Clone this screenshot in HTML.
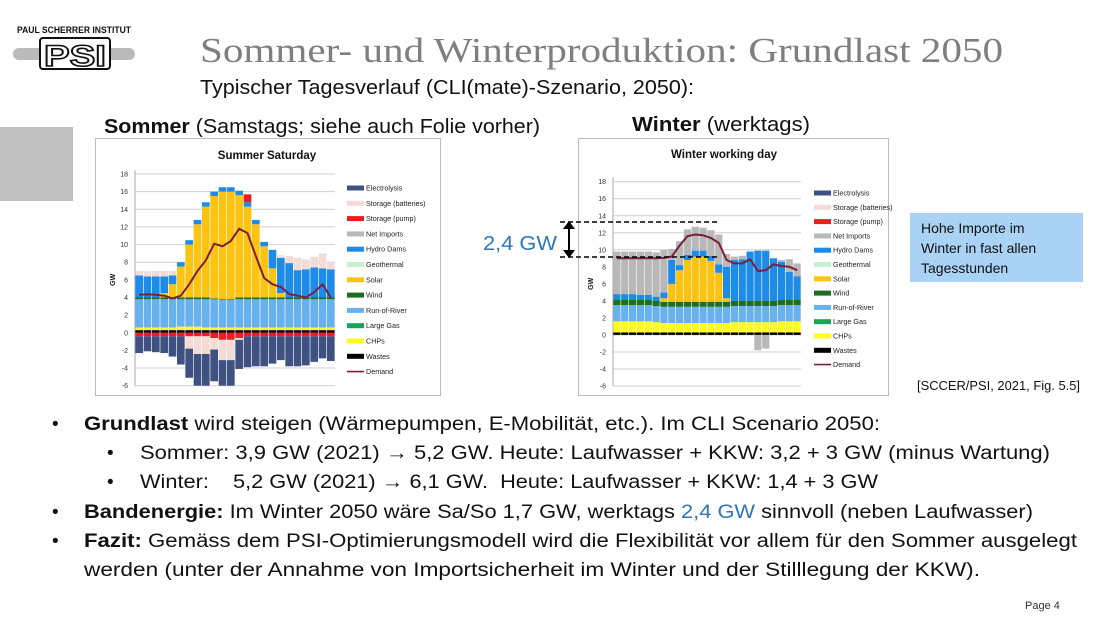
<!DOCTYPE html>
<html><head><meta charset="utf-8"><style>
html,body{margin:0;padding:0;background:#fff;}
svg{display:block;font-family:"Liberation Sans",sans-serif;}
</style></head><body>
<svg id="slide" width="1100" height="619" viewBox="0 0 1100 619" xmlns="http://www.w3.org/2000/svg">
<rect width="1100" height="619" fill="#fff"/>
<g>
<text x="17" y="33" font-size="9.5" font-weight="bold" fill="#111" textLength="114" lengthAdjust="spacingAndGlyphs">PAUL SCHERRER INSTITUT</text>
<rect x="13" y="48" width="122" height="12" rx="6" fill="#bbb"/>
<rect x="40" y="38" width="70" height="31" rx="3" fill="#fff" stroke="#111" stroke-width="2"/>
<text x="75" y="66" font-size="30" font-weight="bold" fill="#fff" stroke="#111" stroke-width="1.6" text-anchor="middle" textLength="62" lengthAdjust="spacingAndGlyphs">PSI</text>
</g>
<rect x="0" y="127" width="73" height="74" fill="#bfbfbf"/>
<text x="200" y="62" font-family="Liberation Serif,serif" font-size="35" fill="#7f7f7f" textLength="803" lengthAdjust="spacingAndGlyphs">Sommer- und Winterproduktion: Grundlast 2050</text>
<text x="200" y="94" font-size="20" fill="#111" textLength="494" lengthAdjust="spacingAndGlyphs">Typischer Tagesverlauf (CLI(mate)-Szenario, 2050):</text>
<text x="104" y="133" font-size="20" fill="#111" textLength="436" lengthAdjust="spacingAndGlyphs"><tspan font-weight="bold">Sommer</tspan> (Samstags; siehe auch Folie vorher)</text>
<text x="632" y="131" font-size="20" fill="#111" textLength="178" lengthAdjust="spacingAndGlyphs"><tspan font-weight="bold">Winter</tspan> (werktags)</text>
<rect x="95.5" y="138.5" width="345" height="257" fill="#fff" stroke="#bbb"/>
<rect x="578.5" y="138.5" width="310" height="257" fill="#fff" stroke="#bbb"/>
<g id="summer"></g>
<g id="winter"></g>
<g>
<line x1="560" y1="222" x2="720" y2="222" stroke="#000" stroke-width="1.5" stroke-dasharray="5,3"/>
<line x1="560" y1="257" x2="720" y2="257" stroke="#000" stroke-width="1.5" stroke-dasharray="5,3"/>
<line x1="569" y1="226" x2="569" y2="253" stroke="#000" stroke-width="2"/>
<polygon points="563,229 575,229 569,221" fill="#000"/>
<polygon points="563,250 575,250 569,258" fill="#000"/>
<text x="483" y="250" font-size="20" fill="#2e75b6" textLength="74" lengthAdjust="spacingAndGlyphs">2,4 GW</text>
</g>
<g>
<rect x="910" y="213" width="173" height="69" fill="#a9d2f5"/>
<text x="921" y="233" font-size="14" fill="#111">Hohe Importe im</text>
<text x="921" y="253" font-size="14" fill="#111">Winter in fast allen</text>
<text x="921" y="273" font-size="14" fill="#111">Tagesstunden</text>
</g>
<text x="917" y="390" font-size="13" fill="#111" textLength="163" lengthAdjust="spacingAndGlyphs">[SCCER/PSI, 2021, Fig. 5.5]</text>
<g font-size="19" fill="#111">
<text x="52" y="430">•</text>
<text x="84" y="430" textLength="796" lengthAdjust="spacingAndGlyphs"><tspan font-weight="bold">Grundlast</tspan> wird steigen (Wärmepumpen, E-Mobilität, etc.). Im CLI Scenario 2050:</text>
<text x="107" y="459">•</text>
<text x="140" y="459" textLength="910" lengthAdjust="spacingAndGlyphs">Sommer: 3,9 GW (2021) → 5,2 GW.  Heute: Laufwasser + KKW: 3,2 + 3 GW (minus Wartung)</text>
<text x="107" y="488">•</text>
<text x="140" y="488" textLength="738" lengthAdjust="spacingAndGlyphs" xml:space="preserve">Winter:    5,2 GW (2021) → 6,1 GW.  Heute: Laufwasser + KKW: 1,4 + 3 GW</text>
<text x="52" y="518">•</text>
<text x="84" y="518" textLength="949" lengthAdjust="spacingAndGlyphs"><tspan font-weight="bold">Bandenergie:</tspan> Im Winter 2050 wäre Sa/So 1,7 GW, werktags <tspan fill="#2e75b6">2,4 GW</tspan> sinnvoll (neben Laufwasser)</text>
<text x="52" y="547">•</text>
<text x="84" y="547" textLength="993" lengthAdjust="spacingAndGlyphs"><tspan font-weight="bold">Fazit:</tspan> Gemäss dem PSI-Optimierungsmodell wird die Flexibilität vor allem für den Sommer ausgelegt</text>
<text x="84" y="576" textLength="896" lengthAdjust="spacingAndGlyphs">werden (unter der Annahme von Importsicherheit im Winter und der Stilllegung der KKW).</text>
</g>
<text x="1025" y="609" font-size="11" fill="#333">Page 4</text>
</svg>
<script>
// ---- data ----
const hours = [1,2,3,4,5,6,7,8,9,10,11,12,13,14,15,16,17,18,19,20,21,22,23,24];
const yTicks = [-6,-4,-2,0,2,4,6,8,10,12,14,16,18];
const legendLabels = ["Electrolysis","Storage (batteries)","Storage (pump)","Net Imports","Hydro Dams","Geothermal","Solar","Wind","Run-of-River","Large Gas","CHPs","Wastes","Demand"];
// Summer Saturday (GW, stacked components)
const sWastes = [0.3,0.3,0.3,0.3,0.3,0.3,0.3,0.3,0.3,0.3,0.3,0.3,0.3,0.3,0.3,0.3,0.3,0.3,0.3,0.3,0.3,0.3,0.3,0.3];
const sCHP = [0.3,0.3,0.3,0.3,0.3,0.4,0.4,0.4,0.3,0.3,0.3,0.3,0.3,0.3,0.3,0.3,0.3,0.3,0.3,0.3,0.3,0.3,0.3,0.3];
const sRoR = [3.2,3.2,3.2,3.2,3.2,3.1,3.1,3.1,3.2,3.2,3.1,3.1,3.2,3.2,3.2,3.2,3.2,3.2,3.2,3.2,3.2,3.2,3.2,3.2];
const sWind = [0.2,0.2,0.2,0.2,0.2,0.2,0.2,0.2,0.2,0.1,0.1,0.1,0.2,0.2,0.2,0.2,0.2,0.2,0.2,0.2,0.2,0.2,0.2,0.2];
const sSolar = [0,0,0,0.5,1.5,3.5,6,8.3,10.3,11.6,12.2,12.2,11.6,10.3,8.3,5.8,3.3,0.5,0,0,0,0,0,0];
const sHydro = [2.5,2.4,2.4,1.9,1.0,0.5,0.5,0.5,0.5,0.5,0.5,0.5,0.5,0.5,0.5,0.5,2.1,4.0,3.9,3.1,3.2,3.4,3.3,3.2];
const sPumpOut = [0,0,0,0,0,0,0,0,0,0,0,0,0,0.9,0,0,0,0,0,0,0,0,0,0];
const sBattOut = [0.5,0.6,0.6,0.6,0.5,0,0,0,0,0,0,0,0,0,0,0,0,0.3,0.8,1.4,1.1,1.2,1.7,0.7];
const sPumpIn = [0.4,0.4,0.4,0.4,0.4,0.4,0.4,0.4,0.4,0.6,0.8,0.8,0.6,0.4,0.4,0.4,0.4,0.4,0.4,0.4,0.4,0.4,0.4,0.4];
const sBattIn = [0,0,0,0,0,0,1.4,2.0,2.0,1.3,2.3,2.3,0.2,0,0,0,0,0,0,0,0,0,0,0];
const sElec = [1.9,1.7,1.8,1.9,2.3,3.2,3.3,3.6,3.6,3.6,2.9,2.9,3.3,3.5,3.4,3.4,3.1,2.7,3.4,3.4,3.3,2.9,2.5,2.8];
const sDemand = [4.3,4.35,4.3,4.2,3.9,4.2,5.5,7.0,8.2,10.1,9.8,10.4,11.8,11.3,8.7,6.2,5.5,5.2,4.4,4.2,4.0,4.6,5.5,4.0];
// Winter working day
const wWastes = [0.3,0.3,0.3,0.3,0.3,0.3,0.3,0.3,0.3,0.3,0.3,0.3,0.3,0.3,0.3,0.3,0.3,0.3,0.3,0.3,0.3,0.3,0.3,0.3];
const wCHP = [1.3,1.3,1.3,1.3,1.3,1.2,1.1,1.1,1.1,1.1,1.1,1.1,1.1,1.1,1.1,1.2,1.2,1.2,1.2,1.2,1.2,1.3,1.3,1.3];
const wRoR = [1.9,1.9,1.9,1.9,1.9,1.9,1.9,1.9,1.9,1.9,1.9,1.9,1.9,1.9,1.9,1.9,1.9,1.9,1.9,1.9,1.9,1.9,1.9,1.9];
const wWind = [0.6,0.6,0.6,0.6,0.6,0.6,0.6,0.6,0.6,0.6,0.6,0.6,0.6,0.6,0.6,0.6,0.6,0.6,0.6,0.6,0.6,0.6,0.6,0.6];
const wSolar = [0,0,0,0,0,0,0.4,2.1,3.7,4.9,5.3,5.3,4.8,3.4,0.4,0,0,0,0,0,0,0,0,0];
const wHydro = [0.7,0.7,0.7,0.6,0.6,0.5,0.7,2.8,0.6,0.6,0.7,0.7,0.6,1.0,3.7,4.8,4.9,5.8,5.9,5.9,5.0,4.5,3.3,2.8];
const wImports = [5.0,5.0,5.0,5.1,5.1,5.2,5.0,1.3,2.8,3.0,2.8,2.7,3.0,3.5,1.5,0.4,0.4,0,-1.8,-1.6,0,0.2,1.5,1.5];
const wDemand = [9.0,9.0,9.0,9.0,9.0,9.0,9.05,9.2,10.5,11.6,11.8,11.7,11.4,10.8,8.8,8.4,8.4,8.9,7.5,7.6,8.3,8.1,8.0,7.6];

const COL = {elec:"#3e5180",batt:"#f3dcd6",pump:"#ee1c1c",imp:"#b8b8b8",hydro:"#1c8ce8",geo:"#c8efd0",solar:"#fdc311",wind:"#1d6e22",ror:"#68b1ef",gas:"#16a457",chp:"#fffb1e",waste:"#000",demand:"#7b1f3c"};
const legendColors = [COL.elec,COL.batt,COL.pump,COL.imp,COL.hydro,COL.geo,COL.solar,COL.wind,COL.ror,COL.gas,COL.chp,COL.waste,COL.demand];
const NS = "http://www.w3.org/2000/svg";
function mk(tag, attrs, parent){const e=document.createElementNS(NS,tag);for(const k in attrs)e.setAttribute(k,attrs[k]);parent.appendChild(e);return e;}

function drawChart(g, cfg){
  const yScale = v => cfg.yTop + (18 - v) * (cfg.yBot - cfg.yTop) / 24;
  const slot = (cfg.xR - cfg.xL) / hours.length;
  const xScale = i => cfg.xL + i * slot;
  const t = mk("text",{x:cfg.titleX,y:cfg.titleY,"font-size":11.5,"font-weight":"bold","text-anchor":"middle",fill:"#111"},g);
  t.textContent = cfg.title;
  
  
  yTicks.forEach(v=>{
    const l = mk("line",{x1:cfg.xL,x2:cfg.xR,y1:yScale(v),y2:yScale(v),stroke:"#cfcfcf","stroke-width":1},g);
    
    
    const tx = mk("text",{x:cfg.xL-7,y:yScale(v)+2.5,"font-size":7,"text-anchor":"end",fill:"#333"},g);
    tx.textContent = v;
    
    
  });
  const ax = mk("line",{x1:cfg.xL,x2:cfg.xL,y1:yScale(18)-4,y2:yScale(-6),stroke:"#aaa"},g);
  
  
  const yt = mk("text",{x:0,y:0,"font-size":7,"font-weight":"bold",fill:"#111","text-anchor":"middle",transform:`translate(${cfg.xL-20},${yScale(6)}) rotate(-90)`},g);
  yt.textContent="GW";
  
  
  const bw = slot * 0.92;
  hours.forEach((h,i)=>{
    let pos = 0, neg = 0;
    const x = xScale(i) + (slot-bw)/2;
    cfg.pos.forEach(([arr,c])=>{
      const v = arr[i];
      if (v > 0){
        const r = mk("rect",{x:x,y:yScale(pos+v),width:bw,height:yScale(pos)-yScale(pos+v),fill:c},g);
        
        
        pos += v;
      } else if (v < 0){
        const r = mk("rect",{x:x,y:yScale(neg),width:bw,height:yScale(neg+v)-yScale(neg),fill:c},g);
        
        
        neg += v;
      }
    });
    cfg.neg.forEach(([arr,c])=>{
      const v = arr[i];
      if (v > 0){
        const r = mk("rect",{x:x,y:yScale(neg),width:bw,height:yScale(neg-v)-yScale(neg),fill:c},g);
        
        
        neg -= v;
      }
    });
  });
  const pts = cfg.demand.map((v,i)=>(xScale(i)+slot/2).toFixed(1)+","+yScale(v).toFixed(1)).join(" ");
  const pl = mk("polyline",{points:pts,fill:"none",stroke:COL.demand,"stroke-width":2,"stroke-linejoin":"round"},g);
  
  
  legendLabels.forEach((lab,k)=>{
    const y = cfg.legY + k*cfg.legStep;
    if (k === legendLabels.length-1){
      const ln = mk("line",{x1:cfg.legX,x2:cfg.legX+17,y1:y,y2:y,stroke:legendColors[k],"stroke-width":1.6},g);
      
      
    } else {
      const sw = mk("rect",{x:cfg.legX,y:y-2.5,width:17,height:5,fill:legendColors[k]},g);
      
      
    }
    const lt = mk("text",{x:cfg.legX+19,y:y+2.5,"font-size":7.2,fill:"#222"},g);
    lt.textContent = lab;
    
    
  });
}

drawChart(document.getElementById("summer"),{
  title:"Summer Saturday", titleX:267, titleY:159,
  xL:135, xR:335, yTop:174, yBot:385.7,
  pos:[[sWastes,COL.waste],[sCHP,COL.chp],[sRoR,COL.ror],[sWind,COL.wind],[sSolar,COL.solar],[sHydro,COL.hydro],[sPumpOut,COL.pump],[sBattOut,COL.batt]],
  neg:[[sPumpIn,COL.pump],[sBattIn,COL.batt],[sElec,COL.elec]],
  demand:sDemand, legX:347, legY:188, legStep:15.3
});
drawChart(document.getElementById("winter"),{
  title:"Winter working day", titleX:724, titleY:158,
  xL:613, xR:801, yTop:181.7, yBot:386,
  pos:[[wWastes,COL.waste],[wCHP,COL.chp],[wRoR,COL.ror],[wWind,COL.wind],[wSolar,COL.solar],[wHydro,COL.hydro],[wImports,COL.imp]],
  neg:[],
  demand:wDemand, legX:814, legY:193, legStep:14.3
});
</script>
</body></html>
